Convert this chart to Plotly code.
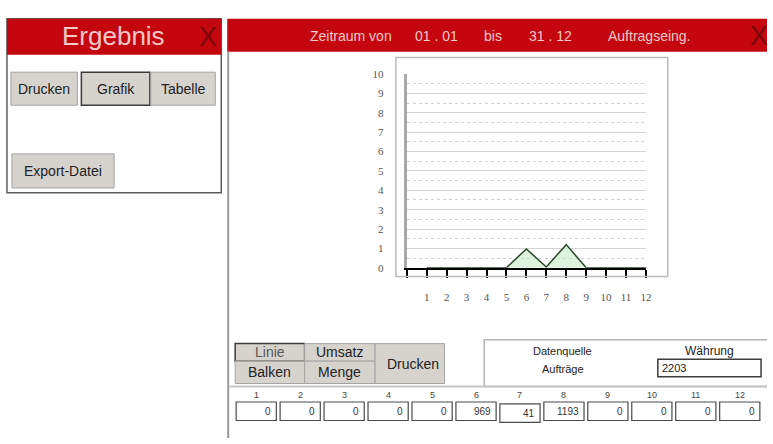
import plotly.graph_objects as go

# ---- data ----
months = list(range(1, 13))
month_labels = [str(m) for m in months]
order_values = [0, 0, 0, 0, 0, 969, 41, 1193, 0, 0, 0, 0]   # Auftragseingang per month
scale = 1000                                               # chart shows thousands
y_ticks = list(range(0, 11))
header_texts = ["Zeitraum von", "01 . 01", "bis", "31 . 12", "Auftragseing."]
currency_value = "2203"

W, H = 773, 444
RED = "#c4060e"
HDR_TXT = "#f6c8c8"
BTN = "#d6d3ce"
BTN_LINE = "#a4a4a4"
SEL_LINE = "#3c3c3c"

shapes = []
annotations = []


def rect(x0, y0, x1, y1, fill="rgba(0,0,0,0)", line="#000", lw=1, layer="above"):
    shapes.append(dict(type="rect", xref="x2", yref="y2", x0=x0, y0=y0, x1=x1, y1=y1,
                       fillcolor=fill, line=dict(color=line, width=lw), layer=layer))


def hline(x0, x1, y, color, lw):
    shapes.append(dict(type="line", xref="x2", yref="y2", x0=x0, x1=x1, y0=y, y1=y,
                       line=dict(color=color, width=lw), layer="above"))


def vline(x, y0, y1, color, lw):
    shapes.append(dict(type="line", xref="x2", yref="y2", x0=x, x1=x, y0=y0, y1=y1,
                       line=dict(color=color, width=lw), layer="above"))


def text(x, y, s, size=13, color="#222", family="Liberation Sans, Arial, sans-serif",
         xanchor="center"):
    annotations.append(dict(x=x, y=y, xref="x2", yref="y2", text=s, showarrow=False,
                            xanchor=xanchor, yanchor="middle",
                            font=dict(size=size, color=color, family=family)))


def button(x0, y0, x1, y1, label, selected=False, size=14, tcolor="#222", tx=None):
    rect(x0, y0, x1, y1, fill=BTN, line=SEL_LINE if selected else BTN_LINE,
         lw=1.5 if selected else 1)
    text((x0 + x1) / 2 if tx is None else tx, (y0 + y1) / 2, label, size=size, color=tcolor)


# ---- left panel "Ergebnis" ----
rect(7, 13, 223, 192, fill="white", line="#5a5a5a", lw=1.5)
rect(7, 13, 223, 50, fill=RED, line=RED, lw=0)
text(114, 31, "Ergebnis", size=26, color=HDR_TXT)
text(210, 32, "X", size=27, color="#7a0808")
button(11, 68, 78, 102, "Drucken")
button(82, 68, 151, 102, "Grafik", selected=True)
button(152, 68, 217, 102, "Tabelle")
button(12, 152, 115, 187, "Export-Datei")

# ---- right panel ----
rect(229, 13, 775, 47, fill=RED, line=RED, lw=0)
for s, x in zip(header_texts, [354, 440, 497, 555, 655]):
    text(x, 31, s, size=14, color=HDR_TXT)
text(765, 31, "X", size=27, color="#7a0808")
vline(230, 47, 444, "#9a9a9a", 2)

# chart frame
rect(399, 53, 673, 278, line="#bcbcbc", lw=1.5, layer="below")

# bottom controls
button(237, 347, 307, 365, "Linie", selected=True, tcolor="#5a5a5a")
button(237, 365, 307, 388, "Balken")
button(307, 347, 378, 365, "Umsatz")
button(307, 365, 378, 388, "Menge")
button(378, 347, 448, 388, "Drucken", tx=416)

rect(488, 343, 780, 391, line="#b4b4b4", lw=1.5)
text(567, 355, "Datenquelle", size=11)
text(567, 373, "Aufträge", size=11)
text(715, 355, "Währung", size=12)
rect(663, 363, 767, 381, fill="white", line="#3c3c3c", lw=1.5)
text(665, 372, currency_value, size=11, xanchor="left")
hline(231, 773, 391, "#c4c4c4", 2)

# monthly value boxes
for i, (lab, v) in enumerate(zip(month_labels, order_values)):
    x0 = 238 + 44.3 * i
    x1 = x0 + 40.5
    dy = 2 if i == 6 else 0
    rect(x0, 407 + dy, x1, 426 + dy, fill="white", line="#4a4a4a", lw=1.2)
    text((x0 + x1) / 2, 400, lab, size=9, color="#444")
    text(x1 - 3, 416.5 + dy, str(v), size=10, color="#333", xanchor="right")

# ---- chart trace ----
ys = [v / scale for v in order_values]
fig = go.Figure()
fig.add_trace(go.Scatter(x=months, y=ys, mode="lines", fill="tozeroy",
                         fillcolor="rgba(190,235,190,0.55)",
                         line=dict(color="#2a452a", width=1.5),
                         hoverinfo="skip", showlegend=False))
# invisible trace to create pixel-coordinate overlay axes
fig.add_trace(go.Scatter(x=[0], y=[0], xaxis="x2", yaxis="y2", mode="markers",
                         marker=dict(opacity=0), hoverinfo="skip", showlegend=False))

x_ticks = [0] + months
x_ticktext = [""] + month_labels

fig.update_layout(
    width=W, height=H,
    margin=dict(l=0, r=0, t=0, b=0),
    paper_bgcolor="white", plot_bgcolor="rgba(0,0,0,0)",
    showlegend=False,
    xaxis=dict(domain=[410 / W, 651 / W], range=[0, 12], tickvals=x_ticks,
               ticktext=x_ticktext, ticks="outside", ticklen=8, tickwidth=2,
               tickcolor="black", showline=True, linecolor="black", linewidth=2,
               showgrid=False, zeroline=False, ticklabelstandoff=10,
               tickfont=dict(size=11, color="#555", family="Liberation Serif, serif"),
               fixedrange=True),
    yaxis=dict(domain=[1 - 269 / H, 1 - 70 / H], range=[0, 10], tickvals=y_ticks,
               showline=True, linecolor="#a9a9a9", linewidth=3,
               showgrid=True, gridcolor="#d4d4d4", gridwidth=1,
               minor=dict(dtick=0.5, showgrid=True, gridcolor="#d0d0d0",
                          griddash="dot", gridwidth=1),
               zeroline=False, ticks="", ticklabelstandoff=18,
               tickfont=dict(size=11, color="#555", family="Liberation Serif, serif"),
               fixedrange=True),
    xaxis2=dict(domain=[0, 1], range=[0, W], visible=False, fixedrange=True,
                anchor="y2"),
    yaxis2=dict(domain=[0, 1], range=[H, 0], visible=False, fixedrange=True,
                anchor="x2"),
    shapes=shapes,
    annotations=annotations,
)

fig.write_html("out.html",
               config={"displayModeBar": False, "staticPlot": True},
               post_script="document.body.style.margin='0';document.body.style.overflow='hidden';")
